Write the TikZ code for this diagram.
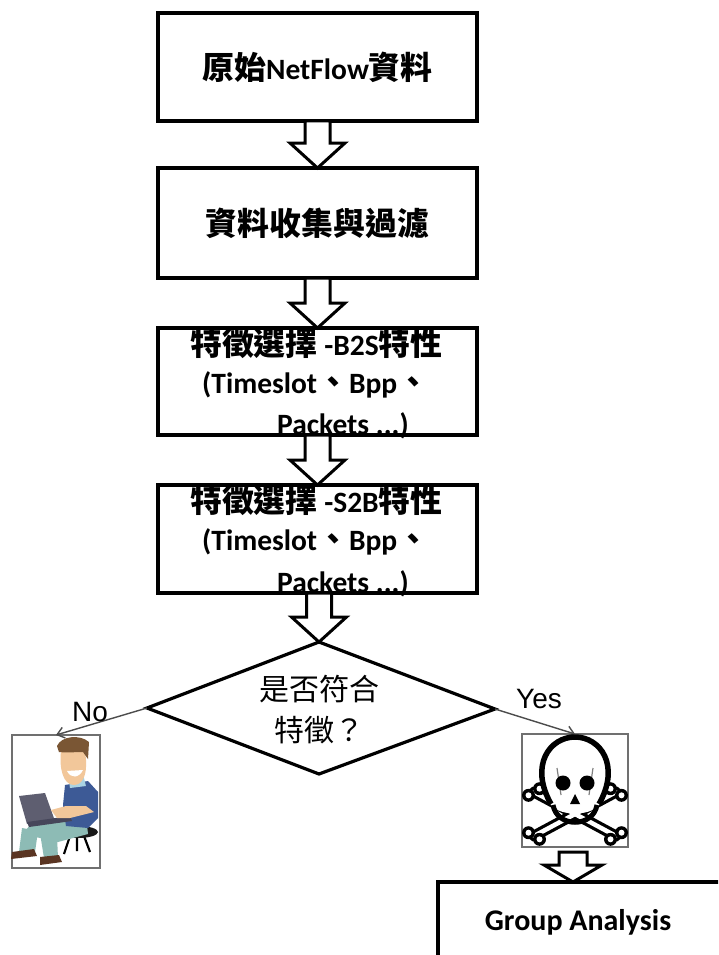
\documentclass[tikz,border=0pt]{standalone}
\usepackage{fontspec}
\setmainfont{Carlito}
\newfontfamily\cjk[Scale=1.08]{Noto Sans CJK TC}
\newfontfamily\cjkplain{Noto Sans CJK TC}
\newfontfamily\arialfont{Liberation Sans}
\usetikzlibrary{calc,arrows.meta}
\newcommand{\zh}[1]{{\cjk #1}}
% hollow block arrow: #1 start, #2 tip, #3 head length, #4 shaft half width, #5 head half width
\newcommand{\hollowarrow}[5]{%
  \draw[blockarrow] let \p1=(#1), \p2=(#2) in
    (\x2-#4pt,\y1) -- (\x2+#4pt,\y1) -- (\x2+#4pt,\y2+#3pt) -- (\x2+#5pt,\y2+#3pt)
    -- (\x2,\y2) -- (\x2-#5pt,\y2+#3pt) -- (\x2-#4pt,\y2+#3pt) -- cycle;}
\definecolor{hair}{HTML}{7A5634}
\definecolor{skin}{HTML}{F2C79A}
\definecolor{shirt}{HTML}{3D5A96}
\definecolor{collar}{HTML}{A9D3E3}
\definecolor{laptop}{HTML}{5E5E70}
\definecolor{laptopdark}{HTML}{46465A}
\definecolor{pants}{HTML}{8DBBB5}
\definecolor{shoe}{HTML}{5A3522}
\definecolor{frame}{HTML}{707070}
\tikzset{
  stepbox/.style={draw, line width=3.5pt, minimum width=319pt, outer sep=0pt,
    inner sep=0pt, font=\fontsize{29.5}{40}\selectfont\bfseries},
  steptext/.style={inner sep=0pt, anchor=base west, font=\fontsize{29.5}{40}\selectfont\bfseries},
  blockarrow/.style={draw, line width=3pt, fill=white},
  qtext/.style={inner sep=0pt, align=center, font=\fontsize{30}{41}\selectfont\cjkplain},
  lbl/.style={inner sep=0pt, font=\fontsize{28}{30}\selectfont\arialfont},
  thinarrow/.style={draw=black!70, line width=1.4pt, -{Straight Barb[length=7pt,width=11pt]}},
  picframe/.style={draw=frame, line width=1.6pt, outer sep=0pt, inner sep=0pt},
  bone/.style={line width=11pt, line cap=round},
}
\begin{document}
\begin{tikzpicture}[x=1pt, y=-1pt]
\useasboundingbox (0,0) rectangle (718,955);
\clip (0,0) rectangle (718,955);
\fill[white] (0,0) rectangle (718,955);

% process steps
\node[stepbox, minimum height=108pt] (b1) at (317.5,67) {\zh{原始}NetFlow\zh{資料}};
\node[stepbox, minimum height=110pt] (b2) at (317.5,223) {\zh{資料收集與過濾}};
\node[stepbox, minimum height=107pt] (b3) at (317.5,381.5) {};
\node[stepbox, minimum height=108pt] (b4) at (317.5,539) {};

\node[steptext] (b3l1) at ($(b3.north west)+(32,27)$) {\zh{特徵選擇} -B2S\zh{特性}};
\node[steptext] (b3l2) at ($(b3.north west)+(44,65)$) {(Timeslot\zh{、}Bpp\zh{、}};
\node[steptext] (b3l3) at ($(b3.north west)+(119,106)$) {Packets ...)};
\node[steptext] (b4l1) at ($(b4.north west)+(32,27)$) {\zh{特徵選擇} -S2B\zh{特性}};
\node[steptext] (b4l2) at ($(b4.north west)+(44,65)$) {(Timeslot\zh{、}Bpp\zh{、}};
\node[steptext] (b4l3) at ($(b4.north west)+(119,107)$) {Packets ...)};

% decision
\coordinate (dt) at (319,642);
\coordinate (dr) at (495,709);
\coordinate (db) at (319,774);
\coordinate (dl) at (147,708);
\draw[line width=3.2pt, line join=miter] (dt) -- (dr) -- (db) -- (dl) -- cycle;
\node[qtext] (q) at (319,710) {是否符合\\特徵？};

% block arrows between steps
\hollowarrow{b1.south}{b2.north}{25}{12.5}{27.5}
\hollowarrow{b2.south}{b3.north}{25}{12.5}{27.5}
\hollowarrow{b3.south}{b4.north}{25}{12.5}{27.5}
\hollowarrow{b4.south}{dt}{25}{12.5}{27.5}

% outcome pictures
\node[picframe, minimum width=88pt, minimum height=133pt] (user) at (56,801.5) {};
\node[picframe, minimum width=106pt, minimum height=113pt] (skull) at (575,790.5) {};

\draw[thinarrow] (dl) -- (user.north);
\draw[thinarrow] (dr) -- (skull.north);
\node[lbl] (nolbl) at (90,712) {No};
\node[lbl] (yeslbl) at (539,699) {Yes};

% seated user with laptop
\begin{scope}
  % stool
  \draw[line width=2.2pt] (70,836) -- (64,854) (84,836) -- (90,852) (77,838) -- (77,851);
  \fill[black!90] (78,832) ellipse [x radius=20, y radius=6];
  % legs
  \fill[pants] (86,816) -- (34,821) -- (22,834) -- (58,842) -- (88,834) -- cycle;
  \fill[pants] (22,828) -- (38,831) -- (35,852) -- (19,852) -- cycle;
  \fill[pants] (40,833) -- (57,836) -- (58,858) -- (44,858) -- cycle;
  \fill[shoe] (12,852) -- (34,849) -- (37,856) -- (11,859) -- cycle;
  \fill[shoe] (40,857) -- (59,855) -- (62,862) -- (40,865) -- cycle;
  % torso
  \fill[shirt] (65,785) -- (88,781) -- (98,792) -- (98,818) -- (88,828) -- (66,826) -- (63,805) -- cycle;
  \fill[collar] (69,781) -- (84,778) -- (86,786) -- (70,788) -- cycle;
  % laptop
  \fill[laptop] (19,796) -- (45,793) -- (55,821) -- (27,824) -- cycle;
  \fill[laptopdark] (27,822) -- (70,816) -- (72,821) -- (29,827) -- cycle;
  % arm and hand
  \fill[shirt] (86,785) -- (98,792) -- (97,812) -- (84,815) -- cycle;
  \fill[skin] (86,806) -- (94,812) -- (70,818) -- (57,818) -- (51,810) -- (66,806) -- cycle;
  % head
  \fill[skin] (61,751) .. controls (59,768) and (63,785) .. (74,785)
    .. controls (83,785) and (87,774) .. (86,760) -- (85,749) -- cycle;
  \fill[white] (67,771) .. controls (71,779) and (79,778) .. (83,770) -- cycle;
  \fill[hair] (57,746) .. controls (61,736) and (80,734) .. (89,742)
    -- (88,759) -- (83,752) .. controls (74,752) and (66,753) .. (59,752) -- cycle;
\end{scope}

% skull and crossbones
\begin{scope}
  \draw[bone] (534,792) -- (616,836);
  \draw[bone] (616,792) -- (534,836);
  \draw[line width=4.5pt, white, line cap=round] (534,792) -- (616,836);
  \draw[line width=4.5pt, white, line cap=round] (616,792) -- (534,836);
  \foreach \bx/\by/\ux/\uy in {534/792/1/-0.6, 616/836/1/-0.6, 616/792/1/0.6, 534/836/1/0.6}{
    \fill[black] (\bx+5.5*\ux,\by+5.5*\uy) circle (6.5);
    \fill[black] (\bx-5.5*\ux,\by-5.5*\uy) circle (6.5);
    \fill[white] (\bx+5.5*\ux,\by+5.5*\uy) circle (3);
    \fill[white] (\bx-5.5*\ux,\by-5.5*\uy) circle (3);
  }
  \fill[white] (549,800) .. controls (551,818) and (599,818) .. (601,800) -- (601,770) -- (549,770) -- cycle;
  \fill[white] (575,772) ellipse [x radius=31, y radius=34];
  \draw[line width=5.5pt] (551,804) .. controls (529,765) and (550,737) .. (575,737)
    .. controls (600,737) and (621,765) .. (599,804);
  \draw[line width=1.2pt, black!50] (557,768) -- (561,795) (593,768) -- (589,795);
  \fill (563,783) circle (7.5);
  \fill (587,783) circle (7.5);
  \fill (575,794) -- (570,804) -- (580,804) -- cycle;
  \draw[line width=5pt] (553,805) .. controls (557,828) and (593,828) .. (597,805);
\end{scope}

% last step, running past the edge
\node[stepbox, minimum width=300pt, minimum height=100pt, anchor=north west] (group) at (438,882) {};
\coordinate (gtop) at ($(group.north west)+(135,0)$);
\coordinate (sbot) at ($(skull.south)+(0,5)$);
\hollowarrow{sbot}{gtop}{17}{14}{29}
\node[inner sep=0pt, font=\fontsize{30}{34}\selectfont\bfseries] (ga) at (578,922) {Group Analysis};
\end{tikzpicture}
\end{document}
